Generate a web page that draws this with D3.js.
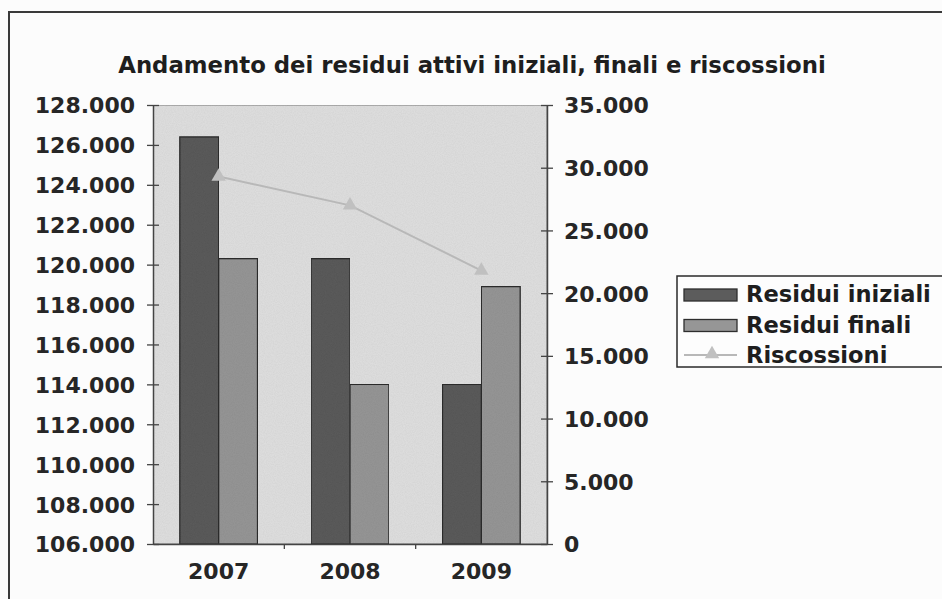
<!DOCTYPE html>
<html>
<head>
<meta charset="UTF-8">
<title>Andamento dei residui</title>
<style>
  body { margin: 0; background: #fcfcfc; }
  svg { display: block; font-family: "DejaVu Sans", Verdana, sans-serif; font-weight: bold; }
</style>
</head>
<body>
<div id="chart"></div>
<script src="https://cdn.jsdelivr.net/npm/d3@7"></script>
<script>
// dati
var anni = ["2007", "2008", "2009"];
var residuiIniziali = [126400, 120300, 114000];
var residuiFinali = [120300, 114000, 118900];
var riscossioni = [29300, 27000, 21800];
var tickSinistra = [106000, 108000, 110000, 112000, 114000, 116000, 118000, 120000, 122000, 124000, 126000, 128000];
var tickDestra = [0, 5000, 10000, 15000, 20000, 25000, 30000, 35000];
var serie = ["Residui iniziali", "Residui finali", "Riscossioni"];

var W = 942, H = 599;
var plot = { left: 153, top: 105, right: 547, bottom: 544 };

var it = d3.formatLocale({ decimal: ",", thousands: ".", grouping: [3], currency: ["€", ""] });
var fmt = it.format(",");

var svg = d3.select("#chart").append("svg")
    .attr("width", W)
    .attr("height", H);

// grana della scansione
var defs = svg.append("defs");
var f = defs.append("filter").attr("id", "grana").attr("x", 0).attr("y", 0).attr("width", 1).attr("height", 1);
f.append("feTurbulence").attr("type", "fractalNoise").attr("baseFrequency", 0.9).attr("numOctaves", 2).attr("seed", 3).attr("result", "n");
f.append("feColorMatrix").attr("in", "n").attr("type", "matrix")
    .attr("values", "0 0 0 0 0  0 0 0 0 0  0 0 0 0 0  0 0 0 0.12 0").attr("result", "a");
f.append("feComposite").attr("in", "a").attr("in2", "SourceGraphic").attr("operator", "in").attr("result", "g");
f.append("feMerge").selectAll("feMergeNode").data(["SourceGraphic", "g"]).enter()
    .append("feMergeNode").attr("in", function(d){ return d; });

// cornice del grafico
svg.append("path")
    .attr("d", "M9," + H + "V12H" + (W + 2))
    .attr("fill", "none")
    .attr("stroke", "#3a3a3a")
    .attr("stroke-width", 2);

// titolo
var titolo = svg.append("text")
    .attr("x", 472)
    .attr("y", 73)
    .attr("text-anchor", "middle")
    .attr("fill", "#1e1e1e")
    .style("font-size", "20px")
    .text("Andamento dei residui attivi iniziali, finali e riscossioni");
var tl = titolo.node().getComputedTextLength();
titolo.style("font-size", (20 * 708 / tl) + "px");

// scale
var x = d3.scaleBand().domain(anni).range([plot.left, plot.right]);
var xs = d3.scaleBand().domain([0, 1]).range([0, x.bandwidth()]).paddingOuter(0.69).paddingInner(0);
var yL = d3.scaleLinear().domain([106000, 128000]).range([plot.bottom, plot.top]);
var yR = d3.scaleLinear().domain([0, 35000]).range([plot.bottom, plot.top]);

// area del grafico
svg.append("rect")
    .attr("x", plot.left)
    .attr("y", plot.top)
    .attr("width", plot.right - plot.left)
    .attr("height", plot.bottom - plot.top)
    .attr("fill", "#e0e0e0")
    .attr("stroke", "#8a8a8a")
    .attr("stroke-width", 1.2)
    .attr("filter", "url(#grana)");

// barre
var colori = ["#5c5c5c", "#969696"];
[residuiIniziali, residuiFinali].forEach(function(vals, s) {
    svg.append("g").selectAll("rect")
        .data(vals)
        .enter().append("rect")
        .attr("x", function(d, i){ return x(anni[i]) + xs(s); })
        .attr("y", function(d){ return yL(d); })
        .attr("width", xs.bandwidth())
        .attr("height", function(d){ return yL(106000) - yL(d); })
        .attr("fill", colori[s])
        .attr("stroke", "#2e2e2e")
        .attr("stroke-width", 1.3)
        .attr("filter", "url(#grana)");
});

// linea riscossioni
var linea = d3.line()
    .x(function(d, i){ return x(anni[i]) + x.bandwidth() / 2; })
    .y(function(d){ return yR(d); });
svg.append("path")
    .datum(riscossioni)
    .attr("d", linea)
    .attr("fill", "none")
    .attr("stroke", "#b8b8b8")
    .attr("stroke-width", 2);
var tri = d3.symbol().type(d3.symbolTriangle).size(90);
svg.append("g").selectAll("path")
    .data(riscossioni)
    .enter().append("path")
    .attr("d", tri)
    .attr("transform", function(d, i){ return "translate(" + (x(anni[i]) + x.bandwidth() / 2) + "," + yR(d) + ")"; })
    .attr("fill", "#c0c0c0");

// assi
function stileAsse(g) {
    g.attr("font-family", "'DejaVu Sans', Verdana, sans-serif").attr("font-weight", "bold");
    g.select(".domain").attr("stroke", "#444").attr("stroke-width", 1.5);
    g.selectAll(".tick line").attr("stroke", "#444").attr("stroke-width", 1.3);
    g.selectAll(".tick text").attr("fill", "#262626").style("font-size", "22px");
}

var gL = svg.append("g")
    .attr("transform", "translate(" + plot.left + ",0)")
    .call(d3.axisLeft(yL).tickValues(tickSinistra).tickFormat(fmt).tickSizeInner(6).tickSizeOuter(0).tickPadding(12));
gL.selectAll(".tick line").attr("x1", 6);
stileAsse(gL);
gL.selectAll(".tick text").attr("dy", "0.36em");

var gR = svg.append("g")
    .attr("transform", "translate(" + plot.right + ",0)")
    .call(d3.axisRight(yR).tickValues(tickDestra).tickFormat(fmt).tickSizeInner(6).tickSizeOuter(0).tickPadding(11));
gR.selectAll(".tick line").attr("x1", -6);
stileAsse(gR);
gR.selectAll(".tick text").attr("dy", "0.36em");

var gX = svg.append("g")
    .attr("transform", "translate(0," + plot.bottom + ")")
    .call(d3.axisBottom(x).tickSize(0).tickPadding(20));
stileAsse(gX);
gX.selectAll(".tick text").attr("dy", "0.7em");
gX.append("g").selectAll("line")
    .data(anni.slice(1))
    .enter().append("line")
    .attr("x1", function(d){ return x(d); })
    .attr("x2", function(d){ return x(d); })
    .attr("y1", 0).attr("y2", 5)
    .attr("stroke", "#444").attr("stroke-width", 1.3);

// legenda
var leg = svg.append("g").attr("transform", "translate(677,276)");
leg.append("rect")
    .attr("width", 280).attr("height", 91)
    .attr("fill", "#fdfdfd")
    .attr("stroke", "#2a2a2a").attr("stroke-width", 1.5);
var righe = leg.selectAll("g.riga")
    .data(serie)
    .enter().append("g")
    .attr("class", "riga")
    .attr("transform", function(d, i){ return "translate(0," + (19 + i * 30.5) + ")"; });
righe.filter(function(d, i){ return i < 2; })
    .append("rect")
    .attr("x", 7).attr("y", -6).attr("width", 53).attr("height", 12)
    .attr("fill", function(d, i){ return colori[i]; })
    .attr("stroke", "#2e2e2e").attr("stroke-width", 1.3);
var r3 = righe.filter(function(d, i){ return i === 2; });
r3.append("line")
    .attr("x1", 7).attr("x2", 60).attr("y1", -1).attr("y2", -1)
    .attr("stroke", "#b8b8b8").attr("stroke-width", 2);
r3.append("path")
    .attr("d", tri)
    .attr("transform", "translate(35,-2)")
    .attr("fill", "#c0c0c0");
var testi = righe.append("text")
    .attr("x", 69)
    .attr("y", 7)
    .attr("fill", "#1e1e1e")
    .style("font-size", "20px")
    .text(function(d){ return d; });
// adatta la larghezza del testo della legenda (185px per la prima voce)
var lw = testi.node().getComputedTextLength();
testi.style("font-size", (20 * 185 / lw) + "px");
</script>
</body>
</html>
